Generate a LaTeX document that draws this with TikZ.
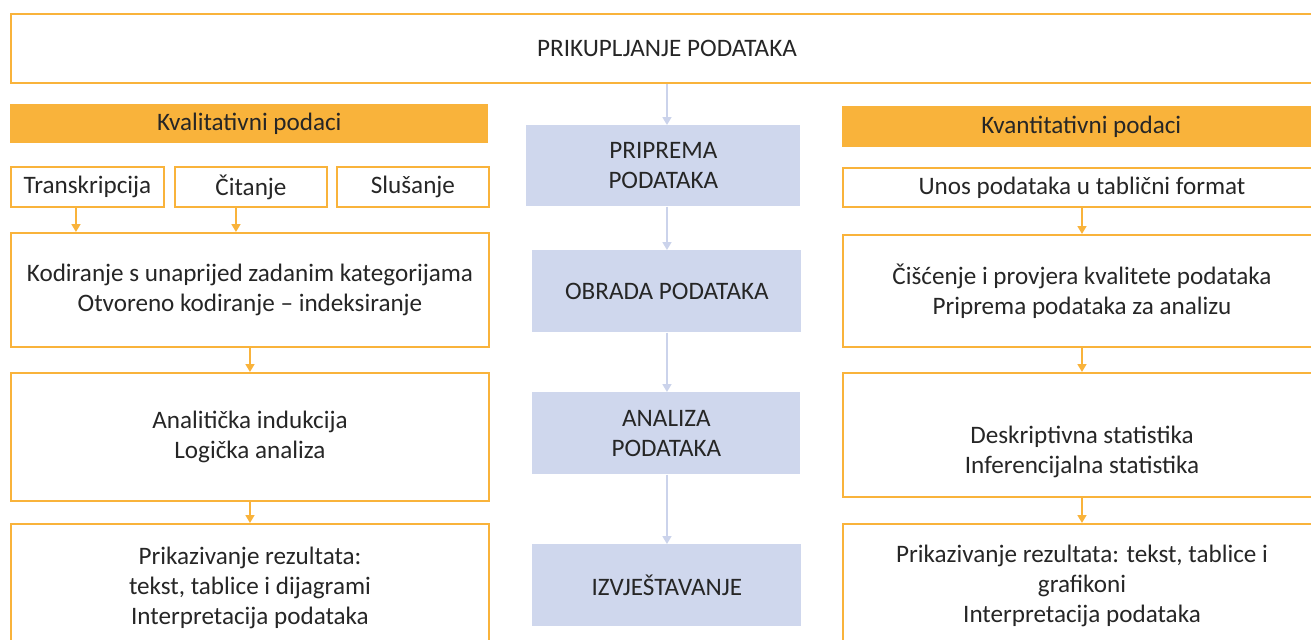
\documentclass[tikz,border=0pt]{standalone}
\usepackage{fontspec}
\setmainfont{Carlito}
\usetikzlibrary{arrows.meta}
\definecolor{orng}{HTML}{F9B33B}
\definecolor{blu}{HTML}{CFD7ED}
\definecolor{bluline}{HTML}{CBD3EB}
\definecolor{txt}{HTML}{262626}
\tikzset{
  every node/.style={font=\fontsize{14.3}{17.2}\selectfont,text=txt,align=center,inner sep=0pt,anchor=north west},
  obox/.style={draw=orng,line width=1.1pt,fill=white},
  bar/.style={fill=orng},
  bbox/.style={fill=blu},
  oarr/.style={draw=orng,line width=1.1pt,-{Triangle[width=5pt,length=4.5pt]}},
  barr/.style={draw=bluline,line width=1.1pt,-{Triangle[width=5pt,length=4.5pt]}}
}
\begin{document}
\begin{tikzpicture}
		\useasboundingbox (0,0) rectangle (26.22,-12.8);
		\clip (0,0) rectangle (26.22,-12.8);
		\fill[white] (0,0) rectangle (26.22,-12.8);
		% top
		\node[obox,minimum width=26.24cm,minimum height=1.38cm] (top) at (0.2,-0.26) {PRIKUPLJANJE PODATAKA};
		% left column
		\node[bar,minimum width=9.56cm,minimum height=0.78cm] (kval) at (0.2,-2.08) {Kvalitativni podaci};
		\node[obox,minimum width=3.06cm,minimum height=0.8cm] (trans) at (0.2,-3.32) {Transkripcija};
		\node[obox,minimum width=3.04cm,minimum height=0.8cm] (cit) at (3.48,-3.32) {Čitanje};
		\node[obox,minimum width=3.04cm,minimum height=0.8cm] (slus) at (6.72,-3.32) {Slušanje};
		\node[obox,minimum width=9.56cm,minimum height=2.28cm] (kod) at (0.2,-4.64) {Kodiranje s unaprijed zadanim kategorijama\\Otvoreno kodiranje – indeksiranje};
		\node[obox,minimum width=9.56cm,minimum height=2.56cm] (anal) at (0.2,-7.44) {Analitička indukcija\\Logička analiza};
		\node[obox,minimum width=9.56cm,minimum height=2.56cm] (prik) at (0.2,-10.46) {Prikazivanje rezultata:\\tekst, tablice i dijagrami\\Interpretacija podataka};
		% middle column
		\node[bbox,minimum width=5.48cm,minimum height=1.62cm] (prip) at (10.52,-2.5) {PRIPREMA\\PODATAKA};
		\node[bbox,minimum width=5.38cm,minimum height=1.64cm] (obr) at (10.64,-5.0) {OBRADA PODATAKA};
		\node[bbox,minimum width=5.36cm,minimum height=1.64cm] (ana) at (10.64,-7.84) {ANALIZA\\PODATAKA};
		\node[bbox,minimum width=5.38cm,minimum height=1.64cm] (izv) at (10.64,-10.88) {IZVJEŠTAVANJE};
		% right column
		\node[bar,minimum width=9.56cm,minimum height=0.82cm] (kvant) at (16.84,-2.12) {Kvantitativni podaci};
		\node[obox,minimum width=9.56cm,minimum height=0.78cm] (unos) at (16.84,-3.34) {Unos podataka u tablični format};
		\node[obox,minimum width=9.56cm,minimum height=2.24cm] (cisc) at (16.84,-4.68) {Čišćenje i provjera kvalitete podataka\\Priprema podataka za analizu};
		\node[obox,minimum width=9.56cm,minimum height=2.48cm] (desk) at (16.84,-7.44) {\strut\\Deskriptivna statistika\\Inferencijalna statistika};
		\node[obox,minimum width=9.56cm,minimum height=2.48cm] (prikq) at (16.84,-10.46) {Prikazivanje rezultata: tekst, tablice i\\grafikoni\\Interpretacija podataka};
		% arrows
		\draw[barr] (top.south) -- (top.south |- prip.north);
		\draw[barr] (top.south |- prip.south) -- (top.south |- obr.north);
		\draw[barr] (top.south |- obr.south) -- (top.south |- ana.north);
		\draw[barr] (top.south |- ana.south) -- (top.south |- izv.north);
		\draw[oarr] ([xshift=-0.23cm]trans.south) -- ([xshift=-0.23cm]trans.south |- kod.north);
		\draw[oarr] ([xshift=-0.3cm]cit.south) -- ([xshift=-0.3cm]cit.south |- kod.north);
		\draw[oarr] (kod.south) -- (anal.north);
		\draw[oarr] (anal.south) -- (prik.north);
		\draw[oarr] (unos.south) -- (cisc.north);
		\draw[oarr] (cisc.south) -- (desk.north);
		\draw[oarr] (desk.south) -- (prikq.north);
\end{tikzpicture}
\end{document}
